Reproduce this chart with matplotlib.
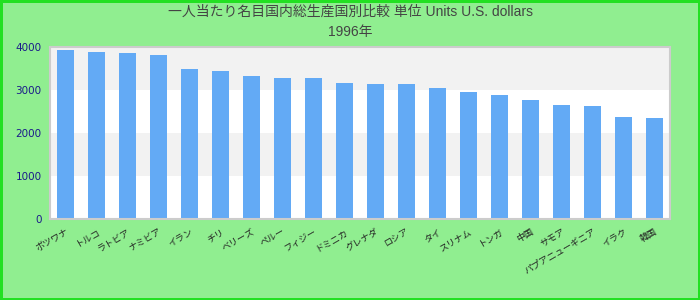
import numpy as np
import matplotlib as mpl
mpl.use('Agg')
import matplotlib.pyplot as plt

#### data
countries = ['ボツワナ', 'トルコ', 'ラトビア', 'ナミビア', 'イラン', 'チリ',
             'ベリーズ', 'ペルー', 'フィジー', 'ドミニカ', 'グレナダ', 'ロシア',
             'タイ', 'スリナム', 'トンガ', '中国', 'サモア', 'パプアニューギニア',
             'イラク', '韓国']
values = [3937, 3890, 3867, 3820, 3494, 3448, 3331, 3285, 3285, 3168,
          3145, 3145, 3052, 2958, 2889, 2772, 2656, 2633, 2383, 2353]
yticks = [0, 1000, 2000, 3000, 4000]
title = '一人当たり名目国内総生産国別比較 単位 Units U.S. dollars\n1996年'

plt.rcParams['font.family'] = ['DejaVu Sans', 'Noto Sans CJK JP']

#### figure
fig = plt.figure(figsize=(7, 3), dpi=100, facecolor='#90ee90',
                 edgecolor='#22e022', linewidth=2.5)
ax = fig.add_axes([0.0714, 0.27, 0.886, 0.573])
ax.set_facecolor('white')

## alternating bands
for lo, hi in zip(yticks[:-1], yticks[1:]):
    if (lo // 1000) % 2 == 1:
        ax.axhspan(lo, hi, color='#f2f2f2', zorder=0, lw=0)

x = np.arange(len(countries))
ax.bar(x, values, width=0.55, color='#63aaf5', zorder=2)

ax.set_xlim(-0.5, len(countries) - 0.5)
ax.set_ylim(0, 4000)
ax.set_yticks(yticks)
ax.set_yticklabels([str(v) for v in yticks], color='#1a1a8a', fontsize=7.5)
ax.set_xticks(x)
ax.set_xticklabels(countries, rotation=30, ha='right', fontsize=6.5,
                   rotation_mode='anchor', color='#222222')
ax.tick_params(length=0, pad=6)
for s in ax.spines.values():
    s.set_color('#cccccc')
    s.set_linewidth(1.5)

fig.suptitle(title, y=0.985, fontsize=10, color='#444444',
             family=['Liberation Sans', 'Noto Sans CJK JP'], linespacing=1.55)

fig.savefig('out.png', dpi=100, facecolor=fig.get_facecolor(),
            edgecolor=fig.get_edgecolor())
plt.close()
